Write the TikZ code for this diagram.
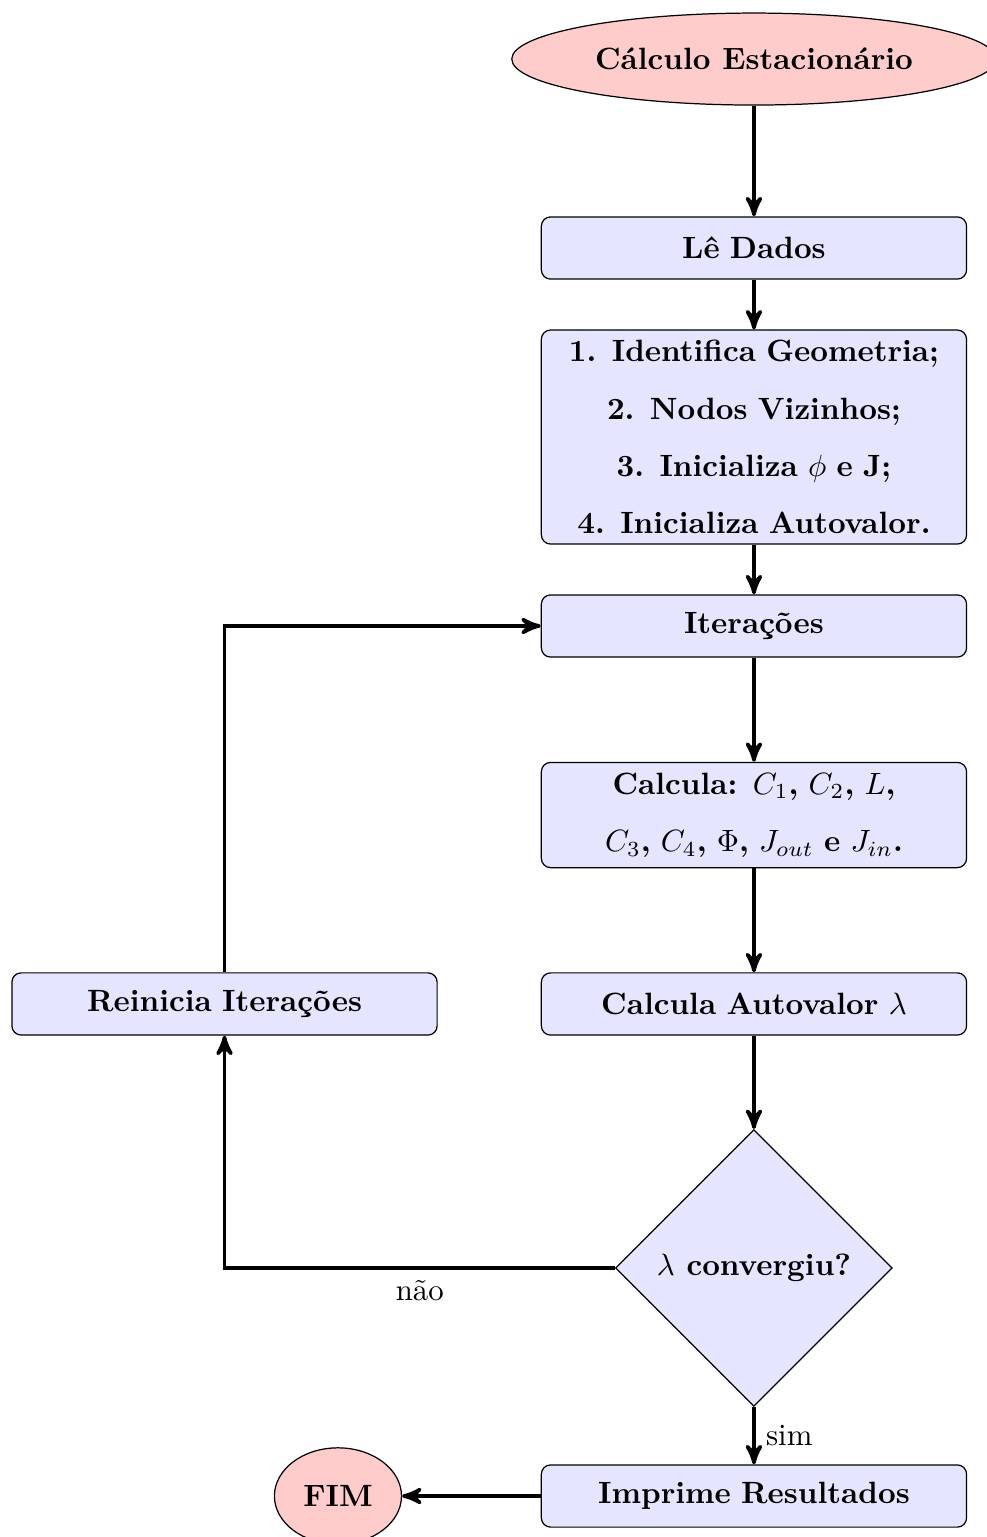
\documentclass[tikz,border=0pt]{standalone}
\usepackage{amsmath}
\usepackage{amssymb}
\usetikzlibrary{shapes,positioning,arrows}

\begin{document}
\begin{tikzpicture}[
    >=stealth',
    terminal/.style={ellipse, draw, fill=red!20, font=\bfseries},
    process/.style={rectangle, draw, rounded corners=3pt, fill=blue!10,
        text width=4.62cm, minimum height=0.71cm, align=center,
        font=\linespread{1.55}\selectfont\bfseries},
    decision/.style={diamond, draw, fill=blue!10, aspect=1,
        minimum width=3.16cm, minimum height=3.16cm, inner sep=1pt, font=\bfseries},
    line/.style={draw, very thick, ->}
]
            \useasboundingbox (0,0) rectangle (11.267,-17.546);
            \def\xm{8.607} % Define the x of the main column
            \def\xl{2.563}

            \node[terminal, minimum width=5.53cm, minimum height=1.05cm] (start) at (\xm, -0.674) {C\'alculo Estacion\'ario};
            \node[process] (le) at (\xm, -2.831) {L\^e Dados};
            \node[process] (init) at (\xm, -4.989)
            {1. Identifica Geometria;\\ 2. Nodos Vizinhos;\\ 3. Inicializa $\phi$ e J;\\ 4. Inicializa Autovalor.};
            \node[process] (iter) at (\xm, -7.146) {Itera\c{c}\~oes};
            \node[process] (calc) at (\xm, -9.304)
            {Calcula: $C_1$, $C_2$, $L$,\\ $C_3$, $C_4$, $\Phi$, $J_{out}$ e $J_{in}$.};
            \node[process] (auto) at (\xm, -11.461) {Calcula Autovalor $\lambda$};
            \node[process] (rein) at (\xl, -11.461) {Reinicia Itera\c{c}\~oes};
            \node[decision] (conv) at (\xm, -14.475) {$\lambda$ convergiu?};
            \node[process] (print) at (\xm, -17.078) {Imprime Resultados};
            \node[terminal, minimum width=1.45cm, minimum height=1.1cm] (fim) at (3.858, -17.078) {FIM};

            \draw[line] (start) -- (le);
            \draw[line] (le) -- (init);
            \draw[line] (init) -- (iter);
            \draw[line] (iter) -- (calc);
            \draw[line] (calc) -- (auto);
            \draw[line] (auto) -- (conv);
            \draw[line] (conv) -- node[right] {sim} (print);
            \draw[line] (print) -- (fim);
            \draw[line] (conv.west) -| node[pos=0.25, below] {n\~ao} (rein.south);
            \draw[line] (rein.north) |- (iter.west);
        \end{tikzpicture}
\end{document}
